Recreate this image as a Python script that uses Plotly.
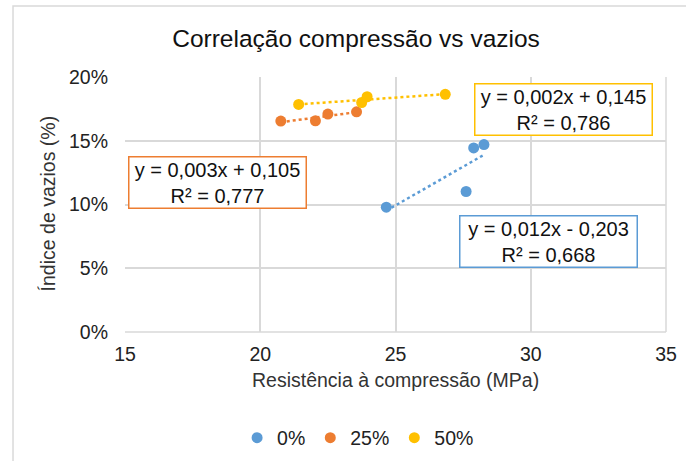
import numpy as np
import plotly.graph_objects as go

series_names = ["0%", "25%", "50%"]
x_0 = [24.66, 27.61, 27.89, 28.27]
y_0 = [0.0979, 0.1102, 0.1444, 0.1470]
x_25 = [20.76, 22.04, 22.50, 23.56]
y_25 = [0.1654, 0.1656, 0.1709, 0.1727]
x_50 = [21.42, 23.75, 23.95, 26.84]
y_50 = [0.1785, 0.1800, 0.1845, 0.1864]
equations = ["y = 0,012x - 0,203<br>R² = 0,668",
             "y = 0,003x + 0,105<br>R² = 0,777",
             "y = 0,002x + 0,145<br>R² = 0,786"]
colors = ["#5B9BD5", "#ED7D31", "#FFC000"]
eq_pos = [(30.66, 0.0707), (18.42, 0.1170), (31.20, 0.1744)]

FONT = "Liberation Sans, Arial, sans-serif"
xs = [x_0, x_25, x_50]
ys = [y_0, y_25, y_50]

fig = go.Figure()
# linear trendlines (least squares on the data)
for xv, yv, c in zip(xs, ys, colors):
    m, b = np.polyfit(xv, yv, 1)
    tx = [min(xv), max(xv)]
    ty = [m * v + b for v in tx]
    fig.add_trace(go.Scatter(x=tx, y=ty, mode="lines", showlegend=False,
                             line=dict(color=c, width=2.5, dash="dot"), hoverinfo="skip"))
for xv, yv, c, n in zip(xs, ys, colors, series_names):
    fig.add_trace(go.Scatter(x=xv, y=yv, mode="markers", name=n,
                             marker=dict(color=c, size=11)))

for (ex, ey), txt, c in zip(eq_pos, equations, colors):
    fig.add_annotation(x=ex, y=ey, xref="x", yref="y", text=txt, showarrow=False,
                       font=dict(family=FONT, size=20, color="#111"),
                       align="center", valign="middle", width=172, height=46,
                       bordercolor=c, borderwidth=1.5, borderpad=2,
                       bgcolor="white", xanchor="center", yanchor="middle")

fig.add_annotation(x=0.5, y=-0.188, xref="paper", yref="paper", yanchor="middle",
                   text="Resistência à compressão (MPa)", showarrow=False,
                   font=dict(family=FONT, size=19.5, color="#333"))
fig.add_annotation(x=-0.142, y=0.505, xref="paper", yref="paper", xanchor="center",
                   yanchor="middle", text="Índice de vazios (%)", showarrow=False,
                   textangle=-90, font=dict(family=FONT, size=19.5, color="#333"))

# outer chart border
fig.add_shape(type="rect", xref="paper", yref="paper", x0=-0.207, x1=1.2, y0=-0.8, y1=1.278,
              line=dict(color="#d9d9d9", width=1.5), fillcolor="rgba(0,0,0,0)", layer="below")
fig.add_shape(type="line", xref="paper", yref="paper", x0=0, x1=1, y0=0, y1=0,
              line=dict(color="#d9d9d9", width=1.5), layer="below")
fig.add_shape(type="line", xref="paper", yref="paper", x0=1, x1=1, y0=0, y1=1,
              line=dict(color="#d9d9d9", width=1.5), layer="below")

fig.update_layout(
    width=686, height=461,
    margin=dict(l=125, r=20, t=77, b=129),
    paper_bgcolor="white", plot_bgcolor="white",
    font=dict(family=FONT, color="#333"),
    title=dict(text="Correlação compressão vs vazios", x=0.519, xref="container",
               y=1 - 38 / 461, yref="container", xanchor="center", yanchor="middle",
               font=dict(size=24.5, color="#111")),
    legend=dict(orientation="h", xref="container", yref="container",
                x=0.522, xanchor="center", y=1 - 438 / 461, yanchor="middle",
                font=dict(size=19.5, color="#222"), itemwidth=30, traceorder="normal"),
    xaxis=dict(range=[15, 35], dtick=5, showgrid=True, gridcolor="#d9d9d9", gridwidth=1.5,
               zeroline=False, showline=False, tickfont=dict(size=19.5, color="#222"),
               ticks="", ticklabelstandoff=8, automargin=False),
    yaxis=dict(range=[0, 0.20], dtick=0.05, tickformat=".0%", showgrid=True,
               gridcolor="#d9d9d9", gridwidth=1.5, zeroline=False, showline=False,
               tickfont=dict(size=19.5, color="#222"), ticks="", ticklabelstandoff=16,
               automargin=False),
)
fig.write_html("out.html", config={"displayModeBar": False},
               post_script="document.body.style.margin='0';document.body.style.overflow='hidden';")
